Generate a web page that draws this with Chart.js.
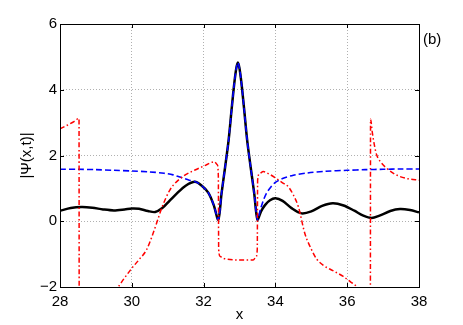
<!DOCTYPE html>
<html>
<head>
<meta charset="utf-8">
<script src="https://cdn.jsdelivr.net/npm/chart.js@4/dist/chart.umd.min.js"></script>
<style>
  body { margin: 0; background: #fff; }
  #wrap { position: relative; width: 463px; height: 325px; }
  #tag { position: absolute; left: 423px; top: 31px; font: 15px "Liberation Sans", Arial, sans-serif; line-height: 1; color: #000; }
</style>
</head>
<body>
<div id="wrap">
  <canvas id="psi" width="463" height="325"></canvas>
  <div id="tag">(b)</div>
</div>
<script>
// |Psi(x,t)| (black, solid)
const absX = [28.0, 28.3, 28.6, 28.9, 29.2, 29.5, 29.8, 30.0, 30.2, 30.45, 30.65, 30.85, 31.05, 31.25, 31.5, 31.76, 31.95, 32.13, 32.28, 32.41,
  32.5, 32.6, 32.7, 32.78, 32.85, 32.91, 32.955, 33.0, 33.06, 33.13, 33.21, 33.31, 33.41, 33.5,
  33.6, 33.71, 33.85, 34.0, 34.2, 34.45, 34.73, 35.0, 35.3, 35.6, 35.9, 36.2, 36.45, 36.68, 36.9, 37.2, 37.47, 37.75, 38.0];
const absY = [0.32, 0.40, 0.43, 0.41, 0.36, 0.33, 0.36, 0.39, 0.38, 0.31, 0.28, 0.40, 0.62, 0.84, 1.08, 1.20, 1.08, 0.87, 0.50, 0.05,
  0.85, 1.65, 2.50, 3.40, 4.15, 4.65, 4.83, 4.65, 4.15, 3.40, 2.50, 1.65, 0.85, 0.05,
  0.30, 0.49, 0.64, 0.70, 0.62, 0.40, 0.24, 0.30, 0.47, 0.55, 0.48, 0.32, 0.17, 0.10, 0.17, 0.31, 0.37, 0.34, 0.27];

// background envelope (blue, dashed)
const envX = [28.0, 28.5, 29.0, 29.5, 30.0, 30.5, 30.9, 31.15, 31.4, 31.6, 31.8, 31.95, 32.13, 32.28, 32.41,
  32.5, 32.6, 32.7, 32.78, 32.85, 32.91, 32.955, 33.0, 33.06, 33.13, 33.21, 33.31, 33.41, 33.5,
  33.58, 33.66, 33.75, 33.88, 34.0, 34.2, 34.5, 34.9, 35.4, 36.0, 36.5, 37.0, 37.5, 38.0];
const envY = [1.58, 1.58, 1.57, 1.55, 1.53, 1.50, 1.46, 1.41, 1.32, 1.25, 1.19, 1.08, 0.87, 0.50, 0.05,
  0.85, 1.65, 2.50, 3.40, 4.15, 4.65, 4.83, 4.65, 4.15, 3.40, 2.50, 1.65, 0.85, 0.05,
  0.35, 0.62, 0.85, 1.05, 1.18, 1.30, 1.40, 1.47, 1.52, 1.55, 1.57, 1.58, 1.59, 1.59];

// phase (red, dash-dot), wraps at +-pi
const phaseX = [28.0, 28.2, 28.4, 28.53, 28.535, 28.9, 29.3, 29.62, 29.8, 30.0, 30.2, 30.41, 30.55, 30.69, 30.85, 31.06, 31.2, 31.45, 31.76, 32.05, 32.3, 32.38, 32.41,
  32.42, 32.46, 32.55, 33.06, 33.38, 33.46, 33.495, 33.505, 33.56, 33.66, 33.8, 34.0, 34.2, 34.36, 34.5, 34.64, 34.82, 35.0, 35.15, 35.35, 35.6, 35.89, 36.1, 36.26, 36.45, 36.645,
  36.65, 36.7, 36.76, 36.82, 36.95, 37.1, 37.3, 37.47, 37.7, 38.0];
const phaseY = [2.81, 2.92, 3.04, 3.13, -3.14, -2.85, -2.45, -2.0, -1.72, -1.43, -1.17, -0.87, -0.5, -0.06, 0.45, 0.95, 1.15, 1.38, 1.56, 1.70, 1.81, 1.72, 1.40,
  -0.85, -1.07, -1.13, -1.18, -1.18, -1.08, -0.85, 1.25, 1.45, 1.51, 1.45, 1.32, 1.17, 1.05, 0.80, 0.44, -0.37, -0.85, -1.15, -1.35, -1.50, -1.68, -1.85, -2.0, -2.5, -3.1,
  3.1, 2.7, 2.3, 2.02, 1.78, 1.61, 1.45, 1.36, 1.29, 1.25];

const xTicks = [28, 30, 32, 34, 36, 38];
const yTicks = [-2, 0, 2, 4, 6];

const pts = (xs, ys) => xs.map((x, i) => ({ x: x, y: ys[i] }));
const font = { family: "'Liberation Sans', Arial, sans-serif", size: 15 };

// box round the axes, with inward tick marks on all four sides
const frame = {
  id: "frame",
  afterDraw(chart) {
    const ctx = chart.ctx;
    const a = chart.chartArea;
    const sx = chart.scales.x, sy = chart.scales.y;
    ctx.save();
    ctx.strokeStyle = "#000";
    ctx.lineWidth = 1;
    ctx.strokeRect(Math.round(a.left) + 0.5, Math.round(a.top) + 0.5, Math.round(a.right - a.left), Math.round(a.bottom - a.top));
    ctx.beginPath();
    xTicks.forEach((v) => {
      const p = Math.round(sx.getPixelForValue(v)) + 0.5;
      ctx.moveTo(p, a.bottom); ctx.lineTo(p, a.bottom - 4);
      ctx.moveTo(p, a.top); ctx.lineTo(p, a.top + 4);
    });
    yTicks.forEach((v) => {
      const p = Math.round(sy.getPixelForValue(v)) + 0.5;
      ctx.moveTo(a.left, p); ctx.lineTo(a.left + 4, p);
      ctx.moveTo(a.right, p); ctx.lineTo(a.right - 4, p);
    });
    ctx.stroke();
    ctx.restore();
  },
};

new Chart(document.getElementById("psi"), {
  type: "line",
  data: {
    datasets: [
      {
        label: "|Psi|",
        data: pts(absX, absY),
        borderColor: "#000",
        borderWidth: 2.5,
        tension: 0.3,
        order: 3,
      },
      {
        label: "envelope",
        data: pts(envX, envY),
        borderColor: "#0000ff",
        borderWidth: 1.6,
        borderDash: [6, 3],
        tension: 0.3,
        order: 2,
      },
      {
        label: "phase",
        data: pts(phaseX, phaseY),
        borderColor: "#ff0000",
        borderWidth: 1.5,
        borderDash: [5, 2.5, 1.5, 2.5],
        cubicInterpolationMode: "monotone",
        order: 1,
      },
    ],
  },
  options: {
    responsive: false,
    animation: false,
    devicePixelRatio: 1,
    layout: { padding: { left: 0, top: 24, right: 44, bottom: 0 } },
    elements: { point: { radius: 0 } },
    plugins: { legend: { display: false }, tooltip: { enabled: false } },
    scales: {
      x: {
        type: "linear",
        min: 28,
        max: 38,
        afterBuildTicks: (s) => { s.ticks = xTicks.map((v) => ({ value: v })); },
        afterFit: (s) => { s.height = 38; },
        ticks: { color: "#000", font: font, padding: 6, maxRotation: 0 },
        grid: { color: "#b0b0b0", drawTicks: false },
        border: { display: false, dash: [1, 2] },
        title: { display: true, text: "x", color: "#000", font: font, padding: { top: 0, bottom: 1 } },
      },
      y: {
        type: "linear",
        min: -2,
        max: 6,
        afterBuildTicks: (s) => { s.ticks = yTicks.map((v) => ({ value: v })); },
        afterFit: (s) => { s.width = 60; },
        ticks: { color: "#000", font: font, padding: 3, callback: (v) => String(v).replace("-", "\u2212") },
        grid: { color: "#b0b0b0", drawTicks: false },
        border: { display: false, dash: [1, 2] },
        title: { display: true, text: "|\u03A8(x,t)|", color: "#000", font: font, padding: { top: 18, bottom: 0 } },
      },
    },
  },
  plugins: [frame],
});
</script>
</body>
</html>
